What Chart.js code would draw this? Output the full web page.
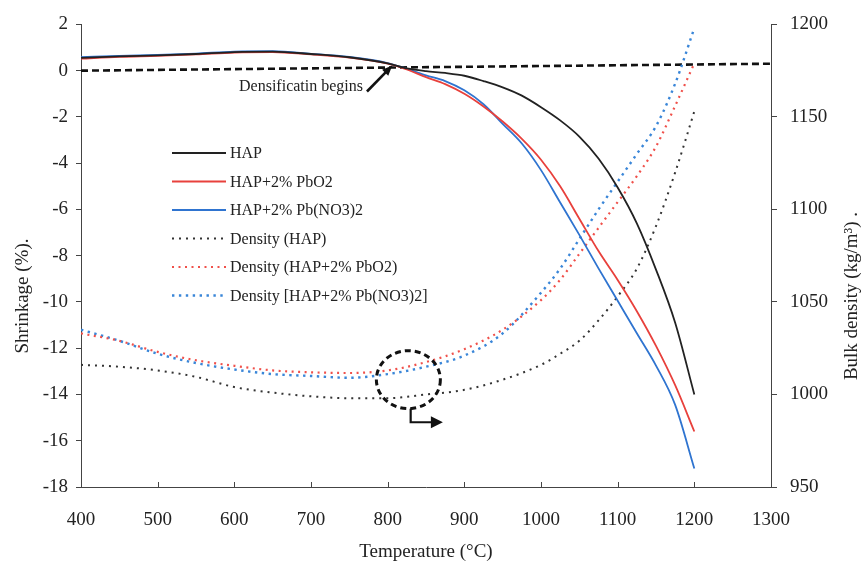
<!DOCTYPE html>
<html>
<head>
<meta charset="utf-8">
<style>
  html, body { margin: 0; padding: 0; background: #fff; }
  #wrap { width: 864px; height: 569px; }
</style>
<script src="https://cdn.jsdelivr.net/npm/chart.js@4/dist/chart.umd.min.js"></script>
</head>
<body>
<div id="wrap"><canvas id="chart"></canvas></div>
<script>
// Shrinkage curves (left axis, %)
const shrinkTemps = [400, 450, 500, 550, 600, 650, 700, 750, 800, 825, 850, 875, 900, 925, 950, 975, 1000, 1025, 1050, 1075, 1100, 1125, 1150, 1175, 1200];
const shrinkHap   = [0.55, 0.62, 0.66, 0.72, 0.80, 0.82, 0.72, 0.58, 0.32, 0.10, -0.02, -0.10, -0.22, -0.45, -0.72, -1.08, -1.58, -2.15, -2.85, -3.80, -5.05, -6.60, -8.60, -10.90, -14.0];
const shrinkPbO2  = [0.52, 0.60, 0.64, 0.70, 0.78, 0.80, 0.70, 0.56, 0.30, 0.05, -0.28, -0.58, -1.00, -1.55, -2.20, -2.95, -3.85, -5.00, -6.40, -7.80, -9.05, -10.40, -11.90, -13.60, -15.6];
const shrinkPbNO3 = [0.58, 0.64, 0.68, 0.74, 0.82, 0.84, 0.73, 0.59, 0.33, 0.08, -0.20, -0.45, -0.85, -1.45, -2.30, -3.15, -4.30, -5.70, -7.10, -8.55, -9.95, -11.35, -12.75, -14.45, -17.2];

// Bulk density curves (right axis, kg/m3)
const densTemps   = [400, 450, 500, 550, 600, 650, 700, 750, 800, 850, 900, 950, 1000, 1025, 1050, 1075, 1100, 1125, 1150, 1175, 1200];
const densHap     = [1016, 1015, 1013, 1009.5, 1004, 1001, 999, 998, 998, 1000, 1002.5, 1008, 1016, 1022, 1029, 1040, 1053, 1068, 1091, 1120, 1153];
const densPbO2    = [1033, 1029, 1023, 1018.5, 1015.5, 1013, 1012, 1011.6, 1013, 1017.5, 1024.5, 1035, 1051, 1062, 1076, 1090, 1104, 1118, 1134, 1156, 1179];
const densPbNO3   = [1035, 1029, 1022, 1017, 1013.5, 1011, 1010, 1009, 1011, 1015, 1021, 1033, 1055, 1068, 1084, 1100, 1115, 1130, 1145, 1168, 1198];

// dashed zero-shrinkage reference line
const refTemps  = [400, 1300];
const refValues = [0, 0.3];

const xTicks = { min: 400, max: 1300, step: 100 };
const yTicks = { min: -18, max: 2, step: 2 };
const y1Ticks = { min: 950, max: 1200, step: 50 };

const SERIF = '"Liberation Serif", "Times New Roman", serif';

function pts(xs, ys) {
    return xs.map((x, i) => ({ x: x, y: ys[i] }));
}

const datasets = [
    { label: 'HAP', data: pts(shrinkTemps, shrinkHap), yAxisID: 'y', borderColor: '#222222', borderWidth: 1.8, borderDash: [] },
    { label: 'HAP+2% PbO2', data: pts(shrinkTemps, shrinkPbO2), yAxisID: 'y', borderColor: '#e8413c', borderWidth: 1.8, borderDash: [] },
    { label: 'HAP+2% Pb(NO3)2', data: pts(shrinkTemps, shrinkPbNO3), yAxisID: 'y', borderColor: '#2f74d0', borderWidth: 1.8, borderDash: [] },
    { label: 'Density (HAP)', data: pts(densTemps, densHap), yAxisID: 'y1', borderColor: '#333333', borderWidth: 2, borderDash: [2, 5] },
    { label: 'Density (HAP+2% PbO2)', data: pts(densTemps, densPbO2), yAxisID: 'y1', borderColor: '#f0504a', borderWidth: 2.2, borderDash: [2, 4.5] },
    { label: 'Density [HAP+2% Pb(NO3)2]', data: pts(densTemps, densPbNO3), yAxisID: 'y1', borderColor: '#3a86d8', borderWidth: 2.4, borderDash: [2.4, 4.5] },
    { label: '', data: pts(refTemps, refValues), yAxisID: 'y', borderColor: '#111111', borderWidth: 2.6, borderDash: [7, 4], noLegend: true }
];
datasets.forEach(d => {
    d.fill = false;
    d.pointRadius = 0;
    d.cubicInterpolationMode = 'monotone';
});

const plainTick = v => String(v);

// extra drawing: inward x ticks, axis titles, legend, annotations
const extras = {
    id: 'extras',
    afterDraw(chart) {
        const ctx = chart.ctx;
        const xs = chart.scales.x, ys = chart.scales.y;
        const area = chart.chartArea;
        ctx.save();

        // inward ticks on the x axis
        ctx.strokeStyle = '#444';
        ctx.lineWidth = 1;
        xs.ticks.forEach(t => {
            const px = Math.round(xs.getPixelForValue(t.value)) + 0.5;
            ctx.beginPath();
            ctx.moveTo(px, area.bottom);
            ctx.lineTo(px, area.bottom - 5);
            ctx.stroke();
        });

        // axis titles
        ctx.fillStyle = '#222';
        ctx.font = '19px ' + SERIF;
        ctx.textAlign = 'center';
        ctx.textBaseline = 'middle';
        ctx.save();
        ctx.translate(23, 296);
        ctx.rotate(-Math.PI / 2);
        ctx.fillText('Shrinkage (%).', 0, 0);
        ctx.restore();
        ctx.save();
        ctx.translate(852, 296);
        ctx.rotate(-Math.PI / 2);
        ctx.fillText('Bulk density (kg/m\u00B3) .', 0, 0);
        ctx.restore();

        // legend
        ctx.font = '16px ' + SERIF;
        ctx.textAlign = 'left';
        let row = 0;
        chart.data.datasets.forEach(d => {
            if (d.noLegend) return;
            const y = 153 + row * 28.5;
            ctx.strokeStyle = d.borderColor;
            ctx.lineWidth = d.borderWidth;
            ctx.setLineDash(d.borderDash);
            ctx.beginPath();
            ctx.moveTo(172, y);
            ctx.lineTo(226, y);
            ctx.stroke();
            ctx.setLineDash([]);
            ctx.fillStyle = '#222';
            ctx.fillText(d.label, 230, y + 1);
            row++;
        });

        // "Densificatin begins" label + arrow
        ctx.font = '16px ' + SERIF;
        ctx.textAlign = 'right';
        ctx.fillStyle = '#222';
        ctx.fillText('Densificatin begins', 363, 87);
        const ax0 = xs.getPixelForValue(773), ay0 = ys.getPixelForValue(-0.9);
        const ax1 = xs.getPixelForValue(806), ay1 = ys.getPixelForValue(0.22);
        drawArrow(ctx, ax0, ay0, ax1, ay1, 2.6, 11);

        // dashed circle around density minimum
        const cx = xs.getPixelForValue(827), cy = ys.getPixelForValue(-13.36);
        ctx.strokeStyle = '#111';
        ctx.lineWidth = 3;
        ctx.setLineDash([6, 4]);
        ctx.beginPath();
        ctx.ellipse(cx, cy, 32, 29, 0, 0, Math.PI * 2);
        ctx.stroke();
        ctx.setLineDash([]);

        // L-shaped arrow pointing to the right axis
        const lx = xs.getPixelForValue(830);
        const lyTop = cy + 29, lyBot = ys.getPixelForValue(-15.2);
        const lxEnd = xs.getPixelForValue(872);
        ctx.lineWidth = 2.2;
        ctx.beginPath();
        ctx.moveTo(lx, lyTop);
        ctx.lineTo(lx, lyBot);
        ctx.lineTo(lxEnd - 10, lyBot);
        ctx.stroke();
        ctx.fillStyle = '#111';
        ctx.beginPath();
        ctx.moveTo(lxEnd, lyBot);
        ctx.lineTo(lxEnd - 12, lyBot - 6);
        ctx.lineTo(lxEnd - 12, lyBot + 6);
        ctx.closePath();
        ctx.fill();

        ctx.restore();
    }
};

function drawArrow(ctx, x0, y0, x1, y1, w, head) {
    const ang = Math.atan2(y1 - y0, x1 - x0);
    ctx.strokeStyle = '#111';
    ctx.fillStyle = '#111';
    ctx.lineWidth = w;
    ctx.beginPath();
    ctx.moveTo(x0, y0);
    ctx.lineTo(x1 - Math.cos(ang) * head * 0.8, y1 - Math.sin(ang) * head * 0.8);
    ctx.stroke();
    ctx.beginPath();
    ctx.moveTo(x1, y1);
    ctx.lineTo(x1 - head * Math.cos(ang - 0.4), y1 - head * Math.sin(ang - 0.4));
    ctx.lineTo(x1 - head * Math.cos(ang + 0.4), y1 - head * Math.sin(ang + 0.4));
    ctx.closePath();
    ctx.fill();
}

new Chart(document.getElementById('chart').getContext('2d'), {
    type: 'line',
    data: { datasets: datasets },
    options: {
        responsive: true,
        maintainAspectRatio: false,
        animation: false,
        devicePixelRatio: 1,
        layout: { padding: { top: 17, left: 0, right: 0, bottom: 0 } },
        plugins: {
            legend: { display: false },
            tooltip: { enabled: false }
        },
        scales: {
            x: {
                type: 'linear',
                min: xTicks.min,
                max: xTicks.max,
                ticks: { stepSize: xTicks.step, color: '#222', font: { family: SERIF, size: 19 }, padding: 22, maxRotation: 0, callback: plainTick },
                grid: { drawOnChartArea: false, drawTicks: false },
                border: { color: '#444', width: 1 },
                title: { display: true, text: 'Temperature (\u00B0C)', color: '#222', font: { family: SERIF, size: 19 }, padding: { top: 0, bottom: 6 } },
                afterFit: s => { s.height = 82; }
            },
            y: {
                position: 'left',
                min: yTicks.min,
                max: yTicks.max,
                ticks: { stepSize: yTicks.step, color: '#222', font: { family: SERIF, size: 19 }, padding: 8, callback: plainTick },
                grid: { drawOnChartArea: false, tickLength: 5, color: '#444' },
                border: { color: '#444', width: 1 },
                afterFit: s => { s.width = 81; }
            },
            y1: {
                position: 'right',
                min: y1Ticks.min,
                max: y1Ticks.max,
                ticks: { stepSize: y1Ticks.step, color: '#222', font: { family: SERIF, size: 19 }, padding: 13, callback: plainTick },
                grid: { drawOnChartArea: false, tickLength: 6, color: '#444' },
                border: { color: '#444', width: 1 },
                afterFit: s => { s.width = 93; }
            }
        }
    },
    plugins: [extras]
});
</script>
</body>
</html>
